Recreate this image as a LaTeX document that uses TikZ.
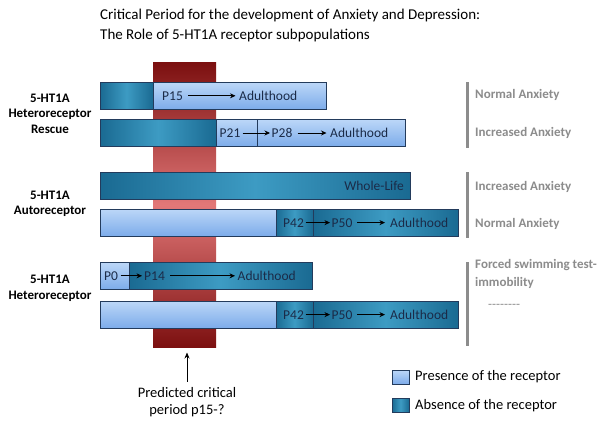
\documentclass[tikz,border=0pt]{standalone}
\usepackage{fontspec}
\setmainfont{Carlito}
\usetikzlibrary{arrows.meta}
\definecolor{tealD}{HTML}{1A6A92}
\definecolor{tealL}{HTML}{3D9BC3}
\definecolor{blueT}{HTML}{BCD7F8}
\definecolor{blueB}{HTML}{7DACEA}
\definecolor{edgec}{HTML}{233B5C}
\definecolor{bandD}{HTML}{7C1010}
\definecolor{bandL}{HTML}{E27878}
\definecolor{txt}{HTML}{1B2B48}
\definecolor{graytxt}{HTML}{8C8C8C}
\begin{document}
\begin{tikzpicture}[x=1pt,y=-1pt,
  seg/.style={draw=edgec, line width=0.6pt, inner sep=0pt, outer sep=0pt, anchor=north west, minimum height=27pt},
  absent/.style={seg, left color=tealD, right color=tealD, middle color=tealL},
  present/.style={seg, top color=blueT, bottom color=blueB},
  lab/.style={text=txt, font=\fontsize{13.5}{15}\selectfont, inner sep=0pt, text height=9pt, text depth=0pt, anchor=west},
  arr/.style={-{Stealth[length=5.5pt,width=5pt]}, line width=0.7pt, black, shorten <=3pt, shorten >=2pt},
  leftlab/.style={font=\bfseries\fontsize{13}{15.5}\selectfont, align=center, inner sep=0pt},
  rightlab/.style={text=graytxt, font=\bfseries\fontsize{13}{18}\selectfont, anchor=west, inner sep=0pt, align=left},
  ttl/.style={font=\fontsize{15}{19}\selectfont, anchor=base west, inner sep=0pt},
  legtxt/.style={font=\fontsize{14.5}{17}\selectfont, anchor=west, inner sep=0pt}
]
\useasboundingbox (0,0) rectangle (604,425);
\fill[white] (0,0) rectangle (604,425);

% title
\node[ttl] (title1) at (100,20) {Critical Period for the development of Anxiety and Depression:};
\node[ttl] (title2) at (100,39.5) {The Role of 5-HT1A receptor subpopulations};

% critical period band
\node[anchor=north west, inner sep=0pt, outer sep=0pt, minimum width=63, minimum height=284,
      top color=bandD, bottom color=bandD, middle color=bandL] (band) at (153,63) {};

% bar 1
\node[absent, minimum width=53] (b1a) at (100,82.3) {};
\node[present, minimum width=173] (b1b) at (153,82.3) {};
\node[lab] (t1a) at (162,95.8) {P15};
\node[lab] (t1b) at (239,95.8) {Adulthood};
\draw[arr, shorten <=5pt, shorten >=3.5pt] (t1a) -- (t1b);

% bar 2
\node[absent, minimum width=116] (b2a) at (100,119.3) {};
\node[present, minimum width=41] (b2b) at (216,119.3) {};
\node[present, minimum width=148] (b2c) at (257,119.3) {};
\node[lab] (t2a) at (219.5,133) {P21};
\node[lab] (t2b) at (271.5,133) {P28};
\node[lab] (t2c) at (330,133) {Adulthood};
\draw[arr, shorten <=2pt, shorten >=1.5pt] (t2a) -- (t2b);
\draw[arr, shorten <=5pt, shorten >=3.5pt] (t2b) -- (t2c);

% bar 3
\node[absent, minimum width=310] (b3a) at (100,172.3) {};
\node[lab, anchor=east] (t3a) at (404,185.8) {Whole-Life};

% bar 4
\node[present, minimum width=176] (b4a) at (100,209) {};
\node[absent, minimum width=37] (b4b) at (276,209) {};
\node[absent, minimum width=145] (b4c) at (313,209) {};
\node[lab] (t4a) at (283,222.6) {P42};
\node[lab] (t4b) at (331.5,222.6) {P50};
\node[lab] (t4c) at (390,222.6) {Adulthood};
\draw[arr, shorten <=1.5pt, shorten >=1.5pt] (t4a) -- (t4b);
\draw[arr, shorten <=4.5pt, shorten >=5pt] (t4b) -- (t4c);

% bar 5
\node[present, minimum width=29] (b5a) at (100,262.3) {};
\node[absent, minimum width=183] (b5b) at (129,262.3) {};
\node[lab] (t5a) at (104,275.8) {P0};
\node[lab] (t5b) at (144,275.8) {P14};
\node[lab] (t5c) at (237.5,275.8) {Adulthood};
\draw[arr, shorten <=2.5pt, shorten >=2pt] (t5a) -- (t5b);
\draw[arr, shorten <=5pt, shorten >=2.5pt] (t5b) -- (t5c);

% bar 6
\node[present, minimum width=176] (b6a) at (100,301) {};
\node[absent, minimum width=37] (b6b) at (276,301) {};
\node[absent, minimum width=145] (b6c) at (313,301) {};
\node[lab] (t6a) at (283,314.6) {P42};
\node[lab] (t6b) at (331.5,314.6) {P50};
\node[lab] (t6c) at (390,314.6) {Adulthood};
\draw[arr, shorten <=1.5pt, shorten >=1.5pt] (t6a) -- (t6b);
\draw[arr, shorten <=4.5pt, shorten >=5pt] (t6b) -- (t6c);

% left labels
\node[leftlab] (g1) at (50,113.5) {5-HT1A\\Heteroreceptor\\Rescue};
\node[leftlab] (g2) at (50,204) {5-HT1A\\Autoreceptor};
\node[leftlab] (g3) at (50,288.5) {5-HT1A\\Heteroreceptor};

% right brackets and labels
\fill[graytxt] (465.5,82) rectangle (468.5,148);
\fill[graytxt] (465.5,171.7) rectangle (468.5,238);
\fill[graytxt] (465.5,262) rectangle (468.5,346);
\node[rightlab] (r1) at (475,95) {Normal Anxiety};
\node[rightlab] (r2) at (475,133) {Increased Anxiety};
\node[rightlab] (r3) at (475,186.5) {Increased Anxiety};
\node[rightlab] (r4) at (475,224) {Normal Anxiety};
\node[rightlab] (r5) at (475,274) {Forced swimming test-\\immobility};
\node[text=graytxt, font=\fontsize{13}{15}\selectfont, anchor=west, inner sep=0pt] (r6) at (488,306.5)
  {\mbox{-}\mbox{-}\mbox{-}\mbox{-}\mbox{-}\mbox{-}\mbox{-}\mbox{-}};

% predicted critical period
\node[font=\fontsize{14.5}{17}\selectfont, align=center, inner sep=0pt] (pred) at (187,402.5)
  {Predicted critical\\period p15-?};
\draw[-{Stealth[length=6pt,width=5pt]}, line width=0.9pt, shorten <=6pt, shorten >=5.5pt]
  (pred.north) -- (pred.north |- band.south);

% legend
\node[present, minimum width=17, minimum height=14] (lg1) at (392,370) {};
\node[absent, minimum width=17, minimum height=14] (lg2) at (392,398.3) {};
\node[legtxt] (lt1) at (415,377) {Presence of the receptor};
\node[legtxt] (lt2) at (415,405.3) {Absence of the receptor};
\end{tikzpicture}
\end{document}
